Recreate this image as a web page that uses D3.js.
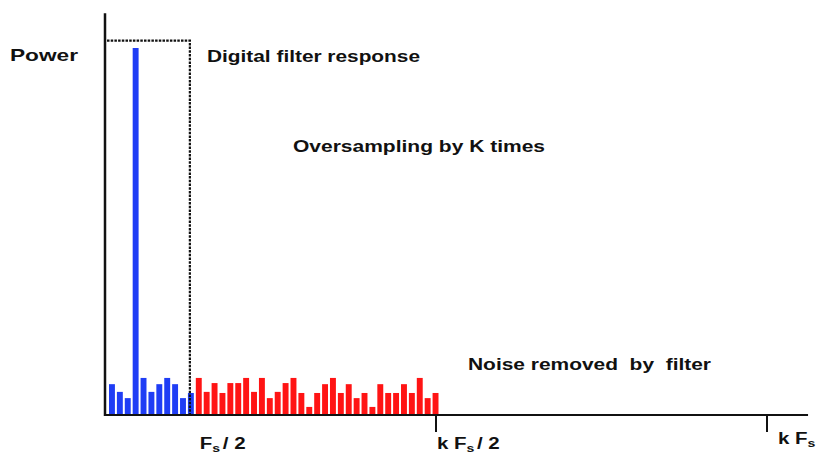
<!DOCTYPE html>
<html>
<head>
<meta charset="utf-8">
<script src="https://cdn.jsdelivr.net/npm/d3@7"></script>
<style>
  body { margin: 0; background: #fff; }
  svg text { font-family: "Liberation Sans", Arial, sans-serif; font-weight: bold; fill: #111; }
</style>
</head>
<body>
<div id="chart"></div>
<script>
// signal band (inside the digital filter) - relative power, peak = 100
var signalPower = [8.4, 6.3, 4.6, 100, 10.1, 6.3, 8.4, 10.1, 8.4, 4.6, 6.0];
// noise band (removed by the filter)
var noisePower = [10.1, 6.3, 8.7, 6.0, 8.7, 8.7, 10.1, 6.3, 10.1, 4.6,
                  6.3, 8.7, 10.1, 6.0, 2.2, 6.0, 8.4, 10.1, 6.0, 8.4,
                  4.6, 6.0, 2.2, 8.4, 6.0, 6.0, 8.4, 6.0, 10.1, 4.6, 6.0];
var filterLevel = 102;
var K = 3.9; // oversampling factor (frequency axis in units of k*Fs)

var width = 818, height = 456;

var svg = d3.select('#chart').append('svg')
  .attr('width', width)
  .attr('height', height);

// frequency axis: 0 -> kFs
var fScale = d3.scaleLinear().domain([0, 1]).range([105, 767]);
var y = d3.scaleLinear().domain([0, 100]).range([415, 48]);

var bars = signalPower.map(function (v) { return { v: v, c: '#1f3df5' }; })
  .concat(noisePower.map(function (v) { return { v: v, c: '#ff1414' }; }));

var x = d3.scaleBand()
  .domain(d3.range(bars.length))
  .range([109, 438.5])
  .paddingInner(0.25)
  .paddingOuter(0);

svg.selectAll('.bar')
  .data(bars)
  .enter().append('rect')
  .attr('class', 'bar')
  .attr('x', function (d, i) { return x(i); })
  .attr('y', function (d) { return y(d.v); })
  .attr('width', x.bandwidth())
  .attr('height', function (d) { return y(0) - y(d.v); })
  .attr('fill', function (d) { return d.c; });

// digital filter response (dotted box)
var fCut = fScale(1 / (2 * K));
svg.append('path')
  .attr('d', 'M' + (fScale(0) + 2) + ',' + y(filterLevel) + 'H' + fCut + 'V' + y(0))
  .attr('fill', 'none')
  .attr('stroke', '#111')
  .attr('stroke-width', 2.2)
  .attr('stroke-dasharray', '2.5,1.2');

// axes
svg.append('line')
  .attr('x1', fScale(0)).attr('x2', fScale(0))
  .attr('y1', y(109.5)).attr('y2', y(0) + 1)
  .attr('stroke', '#111').attr('stroke-width', 2.5);

svg.append('line')
  .attr('x1', fScale(0)).attr('x2', fScale(1.062))
  .attr('y1', y(0)).attr('y2', y(0))
  .attr('stroke', '#111').attr('stroke-width', 2);

svg.selectAll('.tick')
  .data([0.5, 1])
  .enter().append('line')
  .attr('class', 'tick')
  .attr('x1', function (d) { return fScale(d); })
  .attr('x2', function (d) { return fScale(d); })
  .attr('y1', y(0)).attr('y2', y(0) + 17)
  .attr('stroke', '#111').attr('stroke-width', 2);

// frequency labels (stretched horizontally like the original)
var freqLabels = [
  { f: 1 / (2 * K), dx: 10, dy: 449, pre: 'F', sub: 's', post: '/ 2' },
  { f: 0.5, dx: 1, dy: 449, pre: 'k F', sub: 's', post: '/ 2' },
  { f: 1, dx: 11, dy: 444, pre: 'k F', sub: 's', post: '' }
];

freqLabels.forEach(function (l) {
  var t = svg.append('text')
    .attr('transform', 'translate(' + (fScale(l.f) + l.dx) + ',' + l.dy + ') scale(1.28,1)')
    .attr('font-size', 16);
  t.append('tspan').text(l.pre);
  t.append('tspan').attr('font-size', 11).attr('dy', 3).text(l.sub);
  if (l.post) t.append('tspan').attr('dy', -3).attr('dx', 2).text(l.post);
});

// annotations
var notes = [
  { text: 'Power', x: 10, y: 61, w: 68 },
  { text: 'Digital filter response', x: 207, y: 62, w: 213 },
  { text: 'Oversampling by K times', x: 293, y: 152, w: 252 },
  { text: 'Noise removed\u00a0 by\u00a0 filter', x: 468, y: 370, w: 243 }
];

svg.selectAll('.note')
  .data(notes)
  .enter().append('text')
  .attr('class', 'note')
  .attr('x', function (d) { return d.x; })
  .attr('y', function (d) { return d.y; })
  .attr('font-size', 17)
  .attr('textLength', function (d) { return d.w; })
  .attr('lengthAdjust', 'spacingAndGlyphs')
  .text(function (d) { return d.text; });
</script>
</body>
</html>
